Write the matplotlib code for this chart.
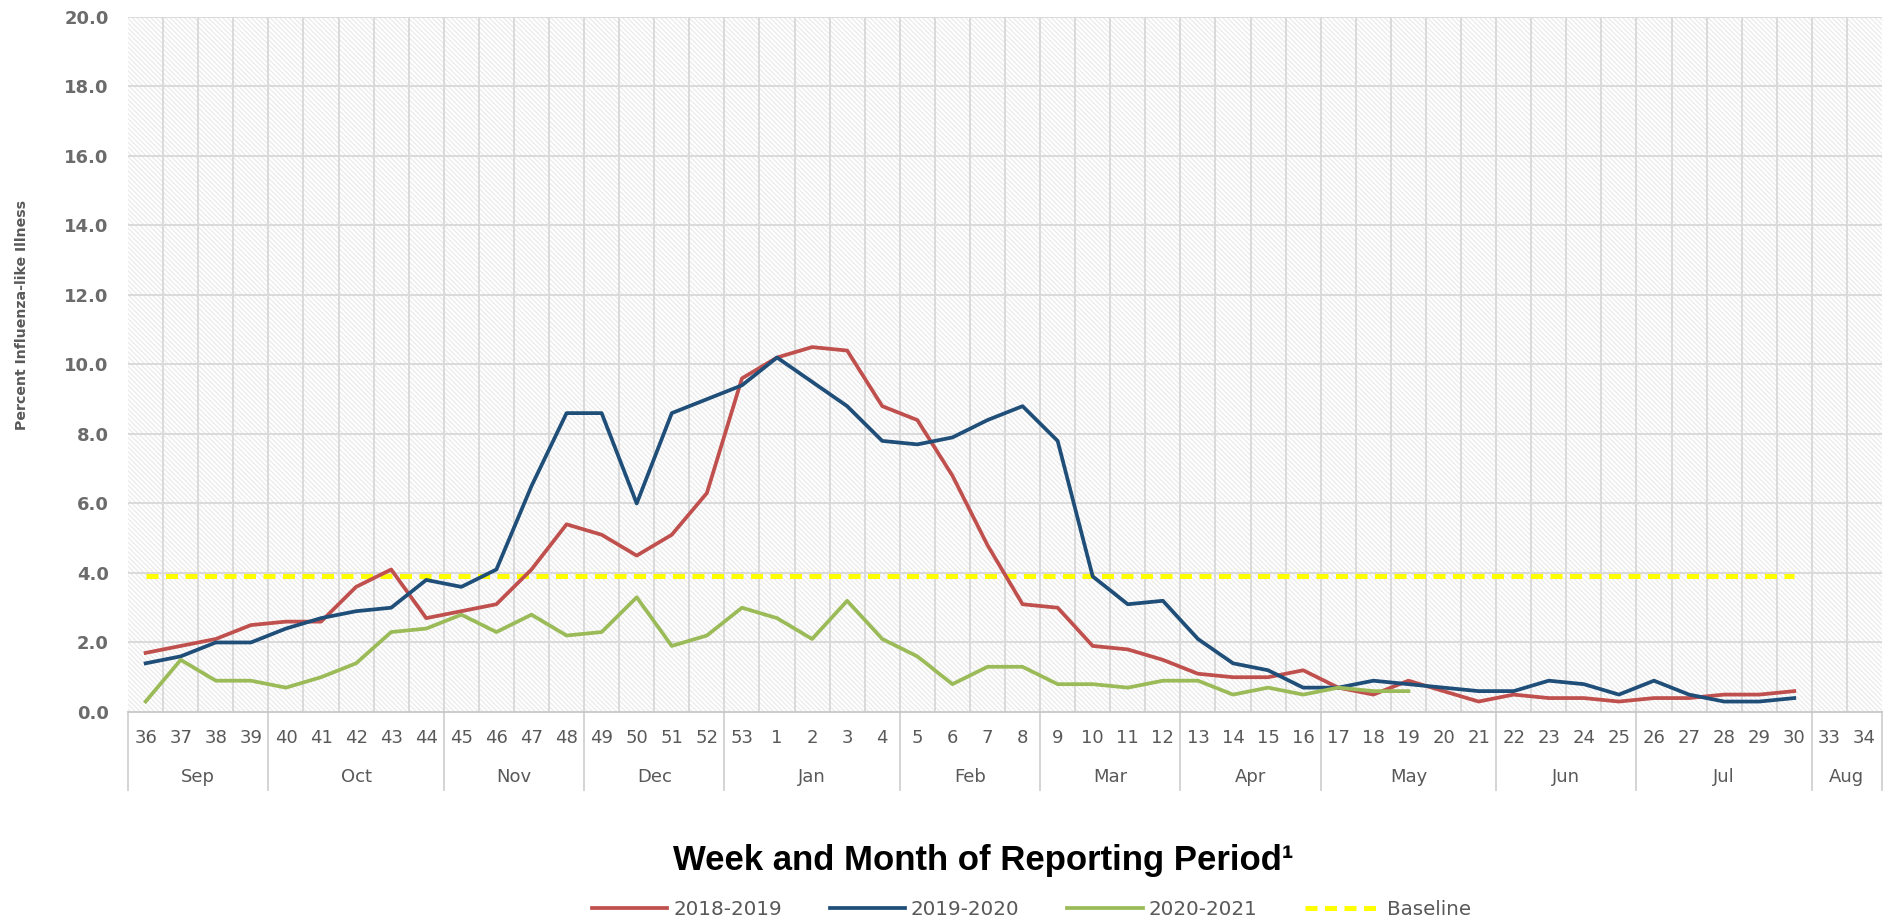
import numpy as np
import matplotlib.pyplot as plt
from matplotlib.patches import Rectangle

# ---- data ----
weeks = [str(w) for w in range(36, 54)] + [str(w) for w in range(1, 31)] + ["33", "34"]
months = ["Sep", "Oct", "Nov", "Dec", "Jan", "Feb", "Mar", "Apr", "May", "Jun", "Jul", "Aug"]
month_sizes = [4, 5, 4, 4, 5, 4, 4, 4, 5, 4, 5, 2]

ili_2018_2019 = [1.7, 1.9, 2.1, 2.5, 2.6, 2.6, 3.6, 4.1, 2.7, 2.9, 3.1, 4.1, 5.4, 5.1, 4.5, 5.1, 6.3, 9.6,
                 10.2, 10.5, 10.4, 8.8, 8.4, 6.8, 4.8, 3.1, 3.0, 1.9, 1.8, 1.5, 1.1, 1.0, 1.0, 1.2,
                 0.7, 0.5, 0.9, 0.6, 0.3, 0.5, 0.4, 0.4, 0.3, 0.4, 0.4, 0.5, 0.5, 0.6]
ili_2019_2020 = [1.4, 1.6, 2.0, 2.0, 2.4, 2.7, 2.9, 3.0, 3.8, 3.6, 4.1, 6.5, 8.6, 8.6, 6.0, 8.6, 9.0, 9.4,
                 10.2, 9.5, 8.8, 7.8, 7.7, 7.9, 8.4, 8.8, 7.8, 3.9, 3.1, 3.2, 2.1, 1.4, 1.2, 0.7,
                 0.7, 0.9, 0.8, 0.7, 0.6, 0.6, 0.9, 0.8, 0.5, 0.9, 0.5, 0.3, 0.3, 0.4]
ili_2020_2021 = [0.3, 1.5, 0.9, 0.9, 0.7, 1.0, 1.4, 2.3, 2.4, 2.8, 2.3, 2.8, 2.2, 2.3, 3.3, 1.9, 2.2, 3.0,
                 2.7, 2.1, 3.2, 2.1, 1.6, 0.8, 1.3, 1.3, 0.8, 0.8, 0.7, 0.9, 0.9, 0.5, 0.7, 0.5,
                 0.7, 0.6, 0.6]
baseline_value = 3.9
baseline_len = 48  # weeks 36 .. 30

series = [
    ("2018-2019", ili_2018_2019, "#C0504D"),
    ("2019-2020", ili_2019_2020, "#1F4E79"),
    ("2020-2021", ili_2020_2021, "#9BBB59"),
]

plt.rcParams['font.family'] = ['DejaVu Sans']
plt.rcParams['hatch.color'] = '#ebebeb'
plt.rcParams['hatch.linewidth'] = 0.9

fig = plt.figure(figsize=(18.92, 9.22), dpi=100)
ax = fig.add_axes([0.0677, 0.2278, 0.9270, 0.7538])

n = len(weeks)
ax.set_xlim(-0.5, n - 0.5)
ax.set_ylim(0, 20)

# hatched background
ax.add_patch(Rectangle((0, 0), 1, 1, transform=ax.transAxes, facecolor='white',
                       edgecolor='#ebebeb', hatch='\\' * 7, lw=0, zorder=0))

# grid
for y in np.arange(2, 20.1, 2):
    ax.axhline(y, color='#dadada', lw=1.4, zorder=1)
for b in np.arange(0.5, n - 0.5, 1):
    ax.axvline(b, color='#dadada', lw=1.4, zorder=1)

for label, vals, color in series:
    ax.plot(np.arange(len(vals)), vals, color=color, lw=2.7, label=label, zorder=3)

ax.plot(np.arange(baseline_len), [baseline_value] * baseline_len, color='#FFFF00',
        lw=3.6, ls=(0, (2.4, 1.5)), label='Baseline', zorder=2)

for s in ['top', 'right', 'left']:
    ax.spines[s].set_visible(False)
ax.spines['bottom'].set_color('#c8c8c8')
ax.spines['bottom'].set_linewidth(1.3)

ax.set_yticks(np.arange(0, 20.1, 2))
ax.set_yticklabels([f"{v:.1f}" for v in np.arange(0, 20.1, 2)], fontweight='bold')
ax.tick_params(axis='y', length=0, pad=14, labelsize=13, labelcolor='#6b6b6b')
ax.set_xticks(np.arange(n))
ax.set_xticklabels(weeks)
ax.tick_params(axis='x', length=0, pad=12, labelsize=13, labelcolor='#595959')

# month group separators and labels
trans = ax.get_xaxis_transform()
edges = np.concatenate([[0], np.cumsum(month_sizes)]) - 0.5
for e in edges:
    ax.plot([e, e], [0, -0.112], color='#d4d4d4', lw=1.4, transform=trans, clip_on=False)
for i, m in enumerate(months):
    ax.text((edges[i] + edges[i + 1]) / 2, -0.094, m, transform=trans, ha='center', va='center',
            fontsize=13, color='#595959')

fig.text(0.0116, 0.658, 'Percent Influenza-like Illness', rotation=90, ha='center', va='center',
         fontsize=10.2, fontweight='bold', color='#595959')

fig.text(0.5195, 1 - 860 / 922, 'Week and Month of Reporting Period\u00b9', ha='center', va='center',
         fontsize=25, fontweight='bold', color='black', family=['Liberation Sans', 'DejaVu Sans'])

fig.legend(loc='center', bbox_to_anchor=(0.545, 1 - 909 / 922), ncol=4, frameon=False,
           fontsize=14.3, labelcolor='#595959', handlelength=3.8, columnspacing=2.4, handletextpad=0.3)

fig.savefig('out.png', dpi=100)
